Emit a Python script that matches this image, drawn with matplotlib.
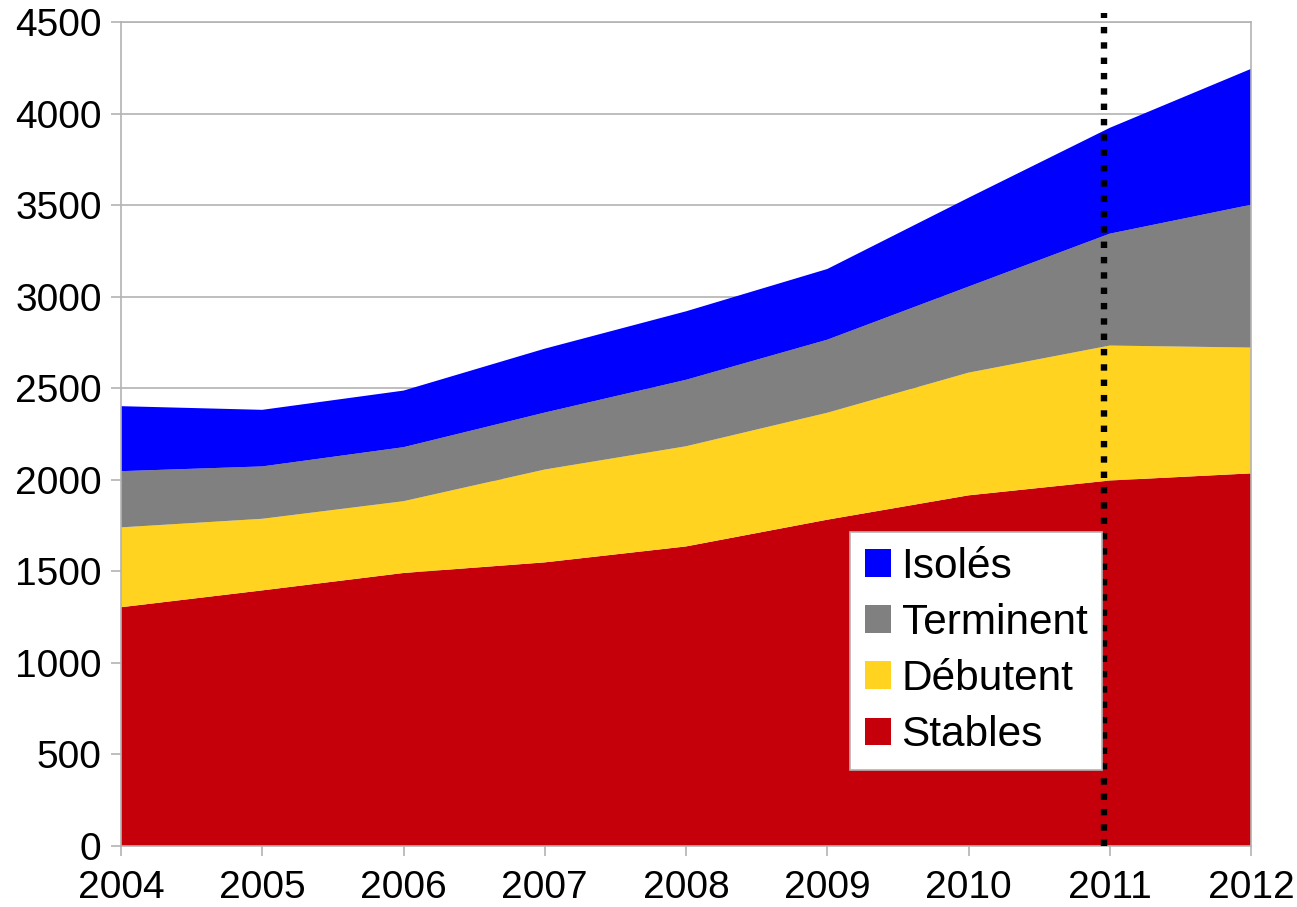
import matplotlib
matplotlib.use("Agg")
import matplotlib.pyplot as plt
from matplotlib.patches import Patch

years = [2004, 2005, 2006, 2007, 2008, 2009, 2010, 2011, 2012]
stables = [1304, 1396, 1491, 1549, 1636, 1782, 1915, 1996, 2035]
debutent = [436, 391, 392, 507, 547, 584, 670, 737, 687]
terminent = [307, 286, 295, 311, 363, 399, 470, 611, 780]
isoles = [355, 309, 309, 349, 374, 386, 485, 578, 742]
labels = ["Stables", "Débutent", "Terminent", "Isolés"]
colors = ["#c5000b", "#ffd320", "#808080", "#0000ff"]
marker_x = 2010.96

plt.rcParams['font.family'] = ['Liberation Sans', 'DejaVu Sans']

fig = plt.figure(figsize=(12.97, 9.07), dpi=100)
ax = fig.add_axes([121/1297, 61/907, 1130/1297, 824/907])

ax.stackplot(years, stables, debutent, terminent, isoles, colors=colors,
             linewidth=0, zorder=2)

ax.set_xlim(2004, 2012)
ax.set_ylim(0, 4500)
ax.set_yticks(range(0, 4501, 500))
ax.set_xticks(years)
ax.grid(axis='y', color='#b3b3b3', linewidth=1.2, zorder=0)
ax.set_axisbelow(True)
for s in ax.spines.values():
    s.set_color('#b3b3b3')
    s.set_linewidth(1.2)
ax.tick_params(axis='both', colors='#b3b3b3', labelcolor='black', labelsize=28,
               length=7, width=1.2)
ax.tick_params(axis='x', pad=10.5)
ax.tick_params(axis='y', pad=7)

ax.plot([marker_x, marker_x], [0, 4550], color='black', linewidth=4.6,
        linestyle=(0, (1, 1.4)), dash_capstyle='butt', clip_on=False, zorder=5)

handles = [Patch(facecolor=c, edgecolor='none') for c in colors][::-1]
leg = ax.legend(handles, labels[::-1], loc='upper left',
                bbox_to_anchor=(0.645, 0.381), fontsize=30.5, frameon=True,
                fancybox=False, framealpha=1, edgecolor='#b3b3b3',
                handlelength=0.62, handleheight=0.62, handletextpad=0.25,
                labelspacing=0.38, borderpad=0.35, borderaxespad=0)
leg.get_frame().set_linewidth(1.2)
leg.set_zorder(6)

fig.savefig("out.png", dpi=100)
